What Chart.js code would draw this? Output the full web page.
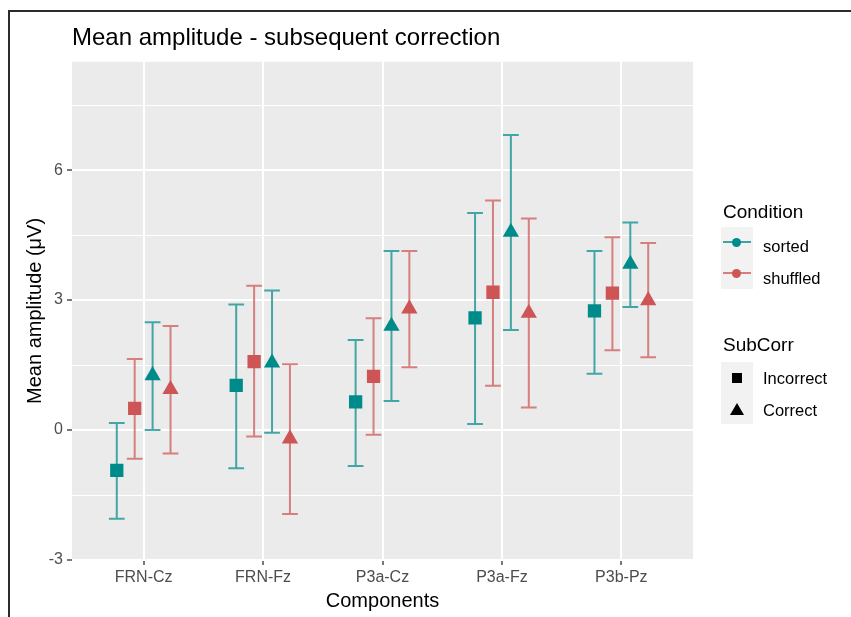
<!DOCTYPE html>
<html>
<head>
<meta charset="utf-8">
<script src="https://cdn.jsdelivr.net/npm/chart.js@4.4.1/dist/chart.umd.min.js"></script>
<style>
html,body{margin:0;padding:0;background:#fff;}
#wrap{position:relative;width:851px;height:617px;overflow:hidden;font-family:"Liberation Sans",Arial,sans-serif;}
#c{position:absolute;left:0;top:0;}
.lg{position:absolute;line-height:1;white-space:nowrap;transform:translateY(-50%);color:#000;}
.lt{font-size:19px;}
.ll{font-size:16.5px;}
.kb{position:absolute;background:#F2F2F2;}
</style>
</head>
<body>
<div id="wrap">
<canvas id="c" width="851" height="617"></canvas>
<div class="kb" style="left:721px;top:227px;width:32px;height:62px;">
  <div style="position:absolute;left:2px;top:14px;width:28px;height:2px;background:rgba(0,139,139,0.75);"></div>
  <div style="position:absolute;left:11px;top:10.5px;width:9px;height:9px;border-radius:50%;background:rgb(0,139,139);"></div>
  <div style="position:absolute;left:2px;top:45px;width:28px;height:2px;background:rgba(205,85,85,0.75);"></div>
  <div style="position:absolute;left:11px;top:41.5px;width:9px;height:9px;border-radius:50%;background:rgb(205,85,85);"></div>
</div>
<div class="kb" style="left:721px;top:362px;width:32px;height:62px;">
  <div style="position:absolute;left:11px;top:11px;width:10px;height:10px;background:#000;"></div>
  <svg style="position:absolute;left:9px;top:41px;" width="14" height="12"><polygon points="7,0 14,12 0,12" fill="#000"/></svg>
</div>
<div class="lg lt" style="left:723px;top:211px;">Condition</div>
<div class="lg ll" style="left:763px;top:246px;">sorted</div>
<div class="lg ll" style="left:763px;top:278px;">shuffled</div>
<div class="lg lt" style="left:723px;top:344px;">SubCorr</div>
<div class="lg ll" style="left:763px;top:378px;">Incorrect</div>
<div class="lg ll" style="left:763px;top:410px;">Correct</div>
</div>
<script>
const categories = ['FRN-Cz', 'FRN-Fz', 'P3a-Cz', 'P3a-Fz', 'P3b-Pz'];

const sortedIncorrectMean = [-0.93, 1.03, 0.65, 2.59, 2.75];
const sortedIncorrectLow  = [-2.05, -0.88, -0.83, 0.14, 1.30];
const sortedIncorrectHigh = [0.16, 2.90, 2.08, 5.01, 4.13];

const shuffledIncorrectMean = [0.50, 1.58, 1.24, 3.18, 3.16];
const shuffledIncorrectLow  = [-0.66, -0.15, -0.11, 1.02, 1.84];
const shuffledIncorrectHigh = [1.64, 3.33, 2.58, 5.30, 4.45];

const sortedCorrectMean = [1.26, 1.55, 2.40, 4.57, 3.83];
const sortedCorrectLow  = [0.00, -0.06, 0.67, 2.31, 2.84];
const sortedCorrectHigh = [2.49, 3.22, 4.13, 6.81, 4.79];

const shuffledCorrectMean = [0.94, -0.20, 2.80, 2.70, 2.99];
const shuffledCorrectLow  = [-0.54, -1.94, 1.45, 0.52, 1.68];
const shuffledCorrectHigh = [2.40, 1.52, 4.13, 4.88, 4.32];

const yTickValues = [-3, -1.5, 0, 1.5, 3, 4.5, 6, 7.5];
const yTickLabels = [-3, 0, 3, 6];

const TEAL = 'rgb(0,139,139)', TEAL_BAR = 'rgba(0,139,139,0.72)';
const RED = 'rgb(205,85,85)', RED_BAR = 'rgba(205,85,85,0.72)';
const FONT = '"Liberation Sans", Arial, sans-serif';

const series = [
  {mean: sortedIncorrectMean, low: sortedIncorrectLow, high: sortedIncorrectHigh, color: TEAL, bar: TEAL_BAR, shape: 'rect'},
  {mean: shuffledIncorrectMean, low: shuffledIncorrectLow, high: shuffledIncorrectHigh, color: RED, bar: RED_BAR, shape: 'rect'},
  {mean: sortedCorrectMean, low: sortedCorrectLow, high: sortedCorrectHigh, color: TEAL, bar: TEAL_BAR, shape: 'triangle'},
  {mean: shuffledCorrectMean, low: shuffledCorrectLow, high: shuffledCorrectHigh, color: RED, bar: RED_BAR, shape: 'triangle'}
];
const dodge = 0.15;

const datasets = series.map((s, k) => ({
  data: s.mean.map((v, i) => ({x: i + (k - 1.5) * dodge, y: v, lo: s.low[i], hi: s.high[i]})),
  pointStyle: s.shape,
  pointRadius: 9.4,
  pointHoverRadius: 9.4,
  backgroundColor: s.color,
  borderColor: s.color,
  borderWidth: 0,
  errColor: s.bar
}));

const panelBg = {
  id: 'panelBg',
  beforeDraw(chart) {
    const {ctx, chartArea: a} = chart;
    ctx.save();
    ctx.fillStyle = '#EBEBEB';
    ctx.fillRect(a.left, a.top, a.right - a.left, a.bottom - a.top);
    ctx.restore();
  },
  afterDraw(chart) {
    const ctx = chart.ctx;
    ctx.save();
    ctx.fillStyle = '#2b2b2b';
    ctx.fillRect(8, 10, 2, 617);
    ctx.fillRect(8, 10, 851, 2);
    ctx.restore();
  }
};

const errorBars = {
  id: 'errorBars',
  beforeDatasetsDraw(chart) {
    const {ctx, scales: {x, y}} = chart;
    chart.data.datasets.forEach(ds => {
      ctx.save();
      ctx.strokeStyle = ds.errColor;
      ctx.lineWidth = 2;
      ctx.beginPath();
      ds.data.forEach(p => {
        const px = x.getPixelForValue(p.x);
        const cw = Math.abs(x.getPixelForValue(p.x + 0.066) - px);
        const yl = y.getPixelForValue(p.lo), yh = y.getPixelForValue(p.hi);
        ctx.moveTo(px, yl); ctx.lineTo(px, yh);
        ctx.moveTo(px - cw, yl); ctx.lineTo(px + cw, yl);
        ctx.moveTo(px - cw, yh); ctx.lineTo(px + cw, yh);
      });
      ctx.stroke();
      ctx.restore();
    });
  }
};

new Chart(document.getElementById('c'), {
  type: 'scatter',
  data: {datasets},
  plugins: [panelBg, errorBars],
  options: {
    responsive: false,
    animation: false,
    devicePixelRatio: 1,
    layout: {padding: {left: 0, right: 158, top: 0, bottom: 0}},
    plugins: {
      legend: {display: false},
      tooltip: {enabled: false},
      title: {
        display: true,
        text: 'Mean amplitude - subsequent correction',
        align: 'start',
        fullSize: false,
        color: '#000',
        font: {size: 24, weight: 'normal', family: FONT},
        padding: {top: 24, bottom: 9}
      }
    },
    scales: {
      x: {
        type: 'linear',
        min: -0.6,
        max: 4.6,
        afterBuildTicks(scale) { scale.ticks = categories.map((c, i) => ({value: i})); },
        afterFit(scale) { scale.height = 57; },
        ticks: {
          callback: v => categories[Math.round(v)],
          color: '#4D4D4D',
          font: {size: 16, family: FONT},
          padding: 3,
          maxRotation: 0,
          autoSkip: false
        },
        grid: {color: '#FFFFFF', lineWidth: 2, tickLength: 5, tickColor: '#4D4D4D', tickWidth: 1.5},
        border: {display: false},
        title: {display: true, text: 'Components', color: '#000', font: {size: 20, family: FONT}, padding: {top: 0, bottom: 4}}
      },
      y: {
        type: 'linear',
        min: -3,
        max: 8.5,
        afterBuildTicks(scale) { scale.ticks = yTickValues.map(v => ({value: v})); },
        afterFit(scale) { scale.width = 72; },
        ticks: {
          callback: v => yTickLabels.includes(v) ? String(v) : '',
          color: '#4D4D4D',
          font: {size: 16, family: FONT},
          padding: 4,
          autoSkip: false
        },
        grid: {
          color: '#FFFFFF',
          lineWidth: c => (c.tick && yTickLabels.includes(c.tick.value)) ? 2 : 1,
          tickLength: 5,
          tickColor: c => (c.tick && yTickLabels.includes(c.tick.value)) ? '#4D4D4D' : 'rgba(0,0,0,0)',
          tickWidth: 1.5
        },
        border: {display: false},
        title: {display: true, text: 'Mean amplitude (μV)', color: '#000', font: {size: 20, family: FONT}, padding: {top: 23, bottom: 0}}
      }
    }
  }
});
</script>
</body>
</html>
